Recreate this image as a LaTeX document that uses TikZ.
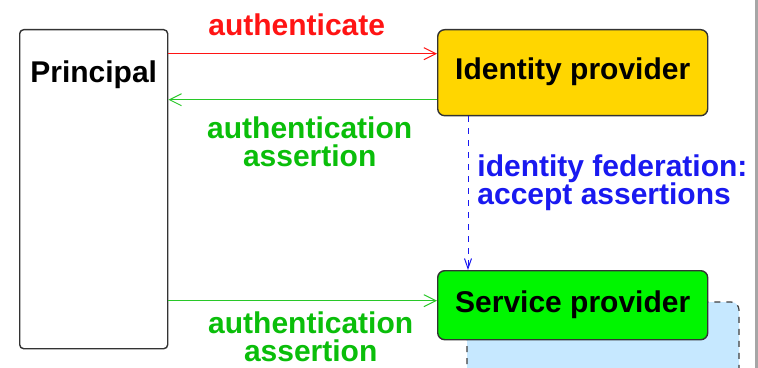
\documentclass[tikz,border=0pt]{standalone}
\usepackage{fontspec}
\setmainfont{Liberation Sans}
\usetikzlibrary{arrows.meta,positioning}
\definecolor{idpgold}{RGB}{255,214,0}
\definecolor{spgreen}{RGB}{0,246,0}
\definecolor{cloudblue}{RGB}{198,232,255}
\definecolor{msgred}{RGB}{255,20,20}
\definecolor{msggreen}{RGB}{40,200,40}
\definecolor{txtgreen}{RGB}{10,190,10}
\definecolor{fedblue}{RGB}{25,25,240}

\begin{document}
\begin{tikzpicture}[x={(0.5pt,0pt)}, y={(0pt,-0.5pt)},
  font=\fontsize{15}{14}\selectfont\bfseries,
  party/.style={draw=black!80, line width=0.7pt, rounded corners=2pt, inner sep=0pt},
  provider/.style={party, rounded corners=3.5pt, minimum width=135pt,
    text height=0.8em, text depth=0.08em},
  msg/.style={line width=0.5pt, -{Straight Barb[length=6pt,width=6pt]}},
  fed/.style={fedblue, dashed, line width=0.5pt, -{Straight Barb[length=5pt,width=3.5pt]}}]

\useasboundingbox (0,0) rectangle (758,368);
\fill[white] (0,0) rectangle (758,368);
\draw[black!35, line width=1.5pt] (756.5,0) -- (756.5,368);

% the service behind the provider
\filldraw[fill=cloudblue, draw=black!75, dashed, line width=0.6pt, rounded corners=4pt]
 (467,302) rectangle (739,400);

\node[party, anchor=north west, minimum width=74pt, minimum height=159.5pt] (principal) at (19,29) {};
\node[anchor=base] (principalname) at ([yshift=-27pt]principal.north) {Principal};

\node[provider, fill=idpgold, minimum height=43pt, anchor=north west] (idp) at (437,29) {Identity provider};
\node[provider, fill=spgreen, minimum height=34.5pt, anchor=north west] (sp) at (437,270) {Service provider};

\coordinate (authin) at ([yshift=9.5pt]idp.west);
\coordinate (assertout) at ([yshift=-13.5pt]idp.west);
\coordinate (spin) at ([yshift=2.25pt]sp.west);

\draw[msg, msgred] (principal.east |- authin) -- (authin)
 node[midway, anchor=base, yshift=9pt, xshift=-3pt] {authenticate};
\draw[msg, msggreen] (assertout) -- (principal.east |- assertout)
 node[midway, anchor=base, yshift=-33.5pt, xshift=3.5pt, align=center, text=txtgreen] {authentication\\assertion};
\draw[msg, msggreen] (principal.east |- spin) -- (spin)
 node[midway, anchor=base, yshift=-30.5pt, xshift=4pt, align=center, text=txtgreen] {authentication\\assertion};

\draw[fed] ([xshift=15.5pt]idp.south west) -- ([xshift=15.5pt]sp.north west);
\node[anchor=base west, align=left, inner sep=0pt, text=fedblue] (fedlabel) at (477,205) {identity federation:\\accept assertions};
\end{tikzpicture}
\end{document}
